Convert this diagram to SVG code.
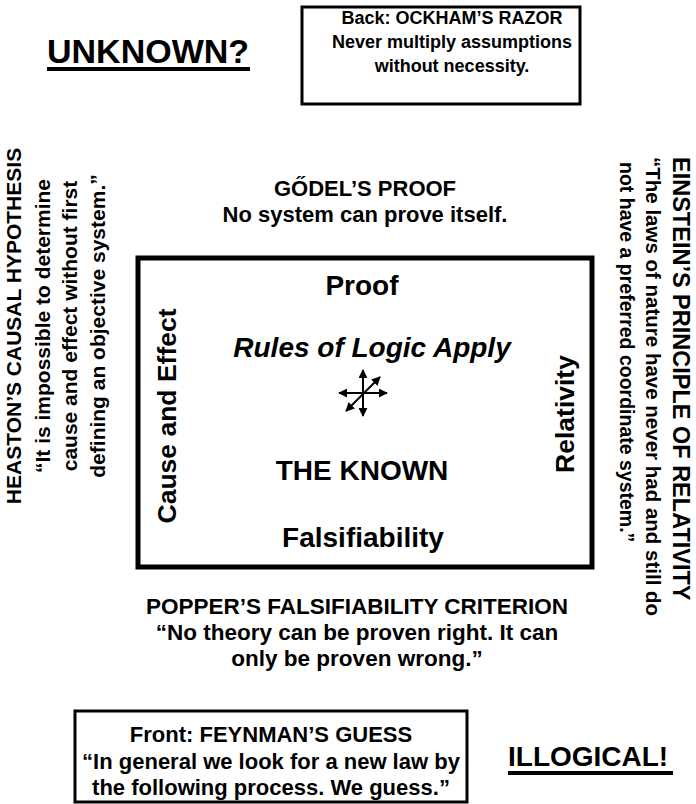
<svg xmlns="http://www.w3.org/2000/svg" width="696" height="804" viewBox="0 0 696 804">
<style>
text{font-family:"Liberation Sans",Arial,sans-serif;font-weight:bold;fill:#000}
.c{text-anchor:middle}
.q{font-size:22px}
.h{font-size:21px}
.p{font-size:22.5px}
.t{font-size:18px}
.big{font-size:28px}
.v{font-size:26.5px}
.box{fill:#fff;stroke:#000;stroke-width:3}
.ar{stroke:#000;stroke-width:2;fill:none}
</style>
<defs>
<marker id="ah" viewBox="0 0 10 10" refX="9" refY="5" markerWidth="4.5" markerHeight="4.5" orient="auto-start-reverse" markerUnits="strokeWidth">
<path d="M0,0 L10,5 L0,10 z" fill="#000"/>
</marker>
</defs>
<rect width="696" height="804" fill="#fff"/>
<g id="unknown">
<text x="47" y="63" style="font-size:34px">UNKNOWN?</text>
<rect x="47" y="67" width="203" height="4" fill="#000"/>
</g>
<g id="ockham">
<rect class="box" x="302" y="7" width="278" height="97"/>
<text class="t c" x="452" y="24">Back: OCKHAM’S RAZOR</text>
<text class="t c" x="452" y="48">Never multiply assumptions</text>
<text class="t c" x="452" y="72">without necessity.</text>
</g>
<g id="godel">
<text class="q c" x="365" y="196">GŐDEL’S PROOF</text>
<text class="q c" x="365" y="222">No system can prove itself.</text>
</g>
<g id="known">
<rect x="138" y="258" width="454" height="309" fill="#fff" stroke="#000" stroke-width="5"/>
<text class="big c" x="362" y="295">Proof</text>
<text class="big c" x="372" y="357" font-style="italic">Rules of Logic Apply</text>
<text class="big c" x="362" y="480">THE KNOWN</text>
<text class="big c" x="363" y="547">Falsifiability</text>
<text class="v c" transform="translate(176,416) rotate(-90)">Cause and Effect</text>
<text class="v c" transform="translate(574,414) rotate(-90)">Relativity</text>
</g>
<g id="connectors">
<line class="ar" x1="363" y1="370" x2="363" y2="416" marker-start="url(#ah)" marker-end="url(#ah)"/>
<line class="ar" x1="339" y1="393" x2="387" y2="393" marker-start="url(#ah)" marker-end="url(#ah)"/>
<line class="ar" x1="346" y1="411" x2="380" y2="377" marker-start="url(#ah)" marker-end="url(#ah)"/>
</g>
<g id="heaston">
<text class="h c" transform="translate(21,326) rotate(-90)">HEASTON’S CAUSAL HYPOTHESIS</text>
<text class="h c" transform="translate(50,326) rotate(-90)">“It is impossible to determine</text>
<text class="h c" transform="translate(77,326) rotate(-90)">cause and effect without first</text>
<text class="h c" transform="translate(105,326) rotate(-90)">defining an objective system.”</text>
</g>
<g id="einstein">
<text transform="translate(673,157) rotate(90)" style="font-size:23.5px">EINSTEIN’S PRINCIPLE OF RELATIVITY</text>
<text transform="translate(646,157) rotate(90)" style="font-size:20.5px">“The laws of nature have never had and still do</text>
<text transform="translate(620,162) rotate(90)" style="font-size:19.5px">not have a preferred coordinate system.”</text>
</g>
<g id="popper">
<text class="p c" x="357" y="614">POPPER’S FALSIFIABILITY CRITERION</text>
<text class="p c" x="357" y="640">“No theory can be proven right. It can</text>
<text class="p c" x="357" y="666">only be proven wrong.”</text>
</g>
<g id="feynman">
<rect class="box" x="75" y="711" width="392" height="91"/>
<text class="q c" x="271" y="742">Front: FEYNMAN’S GUESS</text>
<text class="q c" x="271" y="769">“In general we look for a new law by</text>
<text class="q c" x="271" y="795">the following process. We guess.”</text>
</g>
<g id="illogical">
<text x="508" y="766" style="font-size:28px">ILLOGICAL!</text>
<rect x="508" y="771" width="165" height="4" fill="#000"/>
</g>
</svg>
